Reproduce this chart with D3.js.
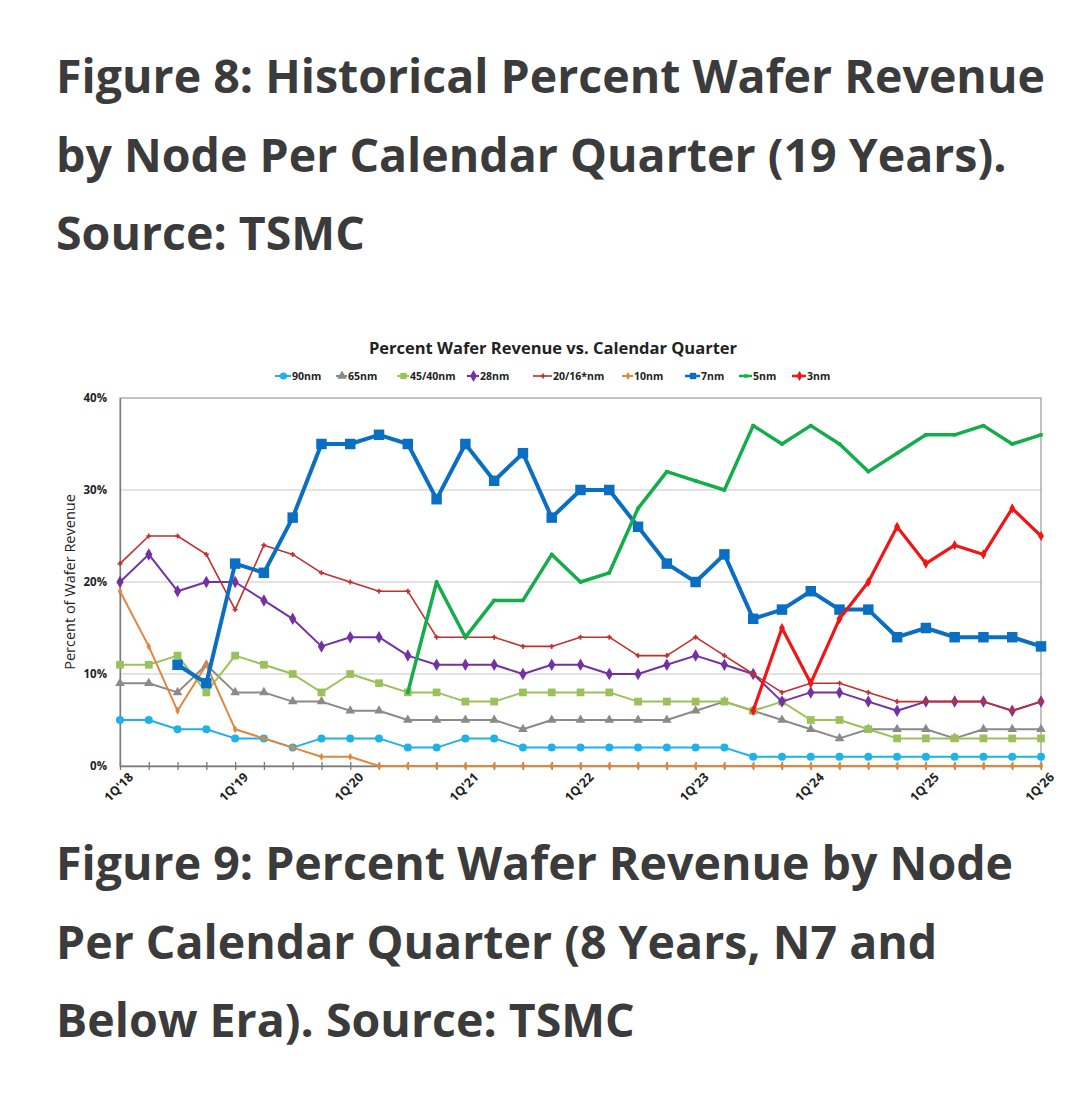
<!DOCTYPE html>
<html>
<head>
<meta charset="utf-8">
<script src="https://cdn.jsdelivr.net/npm/d3@7"></script>
<style>
  body { margin: 0; background: #fff; }
  svg { display: block; }
  .head { font-family: "Open Sans", sans-serif; font-weight: 700; fill: #3b3b3b; font-size: 46.5px; }
  .chart text { font-family: "Open Sans", "Liberation Sans", sans-serif; font-weight: 700; fill: #222; }
</style>
</head>
<body>
<svg id="page" width="1080" height="1106"></svg>
<script>
// quarters, 1Q'18 .. 1Q'26
var quarters = ["1Q'18","2Q'18","3Q'18","4Q'18","1Q'19","2Q'19","3Q'19","4Q'19",
  "1Q'20","2Q'20","3Q'20","4Q'20","1Q'21","2Q'21","3Q'21","4Q'21",
  "1Q'22","2Q'22","3Q'22","4Q'22","1Q'23","2Q'23","3Q'23","4Q'23",
  "1Q'24","2Q'24","3Q'24","4Q'24","1Q'25","2Q'25","3Q'25","4Q'25","1Q'26"];
var yTicks = [0, 10, 20, 30, 40];

var n90   = [5,5,4,4,3,3,2,3,3,3,2,2,3,3,2,2,2,2,2,2,2,2,1,1,1,1,1,1,1,1,1,1,1];
var n65   = [9,9,8,11,8,8,7,7,6,6,5,5,5,5,4,5,5,5,5,5,6,7,6,5,4,3,4,4,4,3,4,4,4];
var n45   = [11,11,12,8,12,11,10,8,10,9,8,8,7,7,8,8,8,8,7,7,7,7,6,7,5,5,4,3,3,3,3,3,3];
var n28   = [20,23,19,20,20,18,16,13,14,14,12,11,11,11,10,11,11,10,10,11,12,11,10,7,8,8,7,6,7,7,7,6,7];
var n20   = [22,25,25,23,17,24,23,21,20,19,19,14,14,14,13,13,14,14,12,12,14,12,10,8,9,9,8,7,7,7,7,6,7];
var n10   = [19,13,6,11,4,3,2,1,1,0,0,0,0,0,0,0,0,0,0,0,0,0,0,0,0,0,0,0,0,0,0,0,0];
var n7    = [null,null,11,9,22,21,27,35,35,36,35,29,35,31,34,27,30,30,26,22,20,23,16,17,19,17,17,14,15,14,14,14,13];
var n5    = [null,null,null,null,null,null,null,null,null,null,8,20,14,18,18,23,20,21,28,32,31,30,37,35,37,35,32,34,36,36,37,35,36];
var n3    = [null,null,null,null,null,null,null,null,null,null,null,null,null,null,null,null,
             null,null,null,null,null,null,6,15,9,16,20,26,22,24,23,28,25];

var series = [
  { name: "90nm",     values: n90, color: "#1eb2e8", width: 2,   symbol: d3.symbolCircle,   size: 50 },
  { name: "65nm",     values: n65, color: "#8a8a8a", width: 2,   symbol: d3.symbolTriangle, size: 40 },
  { name: "45/40nm",  values: n45, color: "#9bc15a", width: 2,   symbol: d3.symbolSquare,   size: 60 },
  { name: "28nm",     values: n28, color: "#7331a6", width: 2,   symbol: d3.symbolDiamond,  size: 45 },
  { name: "20/16*nm", values: n20, color: "#c0302e", width: 1.6, symbol: d3.symbolCross,    size: 14 },
  { name: "10nm",     values: n10, color: "#e0873e", width: 2,   symbol: d3.symbolDiamond,  size: 18 },
  { name: "7nm",      values: n7,  color: "#0a6fc2", width: 4,   symbol: d3.symbolSquare,   size: 110 },
  { name: "5nm",      values: n5,  color: "#13ad4a", width: 3.5, symbol: d3.symbolSquare,   size: 12 },
  { name: "3nm",      values: n3,  color: "#f01616", width: 3.2, symbol: d3.symbolDiamond,  size: 30 }
];

var svg = d3.select("#page");

// headings
var heads = [
  { lines: ["Figure 8: Historical Percent Wafer Revenue", "by Node Per Calendar Quarter (19 Years).", "Source: TSMC"], y: 93 },
  { lines: ["Figure 9: Percent Wafer Revenue by Node", "Per Calendar Quarter (8 Years, N7 and", "Below Era). Source: TSMC"], y: 880 }
];
heads.forEach(function(h) {
  svg.append("g").selectAll("text").data(h.lines).enter().append("text")
    .attr("class", "head")
    .attr("x", 56)
    .attr("y", function(d, i) { return h.y + i * 78.5; })
    .text(function(d) { return d; });
});

// chart
var m = { left: 120, right: 1041, top: 398, bottom: 766 };
var chart = svg.append("g").attr("class", "chart");

var x = d3.scaleLinear().domain([0, quarters.length - 1]).range([m.left, m.right]);
var y = d3.scaleLinear().domain([0, 40]).range([m.bottom, m.top]);

chart.append("text")
  .attr("x", 553).attr("y", 354)
  .attr("text-anchor", "middle")
  .style("font-size", "16.5px")
  .text("Percent Wafer Revenue vs. Calendar Quarter");

// gridlines
chart.append("g").selectAll("line").data(yTicks.slice(1, 4)).enter().append("line")
  .attr("x1", m.left).attr("x2", m.right)
  .attr("y1", function(d) { return y(d); }).attr("y2", function(d) { return y(d); })
  .attr("stroke", "#c8c8c8").attr("stroke-width", 1.2);

// frame
chart.append("rect")
  .attr("x", m.left).attr("y", m.top)
  .attr("width", m.right - m.left).attr("height", m.bottom - m.top)
  .attr("fill", "none").attr("stroke", "#9a9a9a").attr("stroke-width", 1.2);

// y axis
var yAxis = chart.append("g")
  .attr("transform", "translate(" + m.left + ",0)")
  .call(d3.axisLeft(y).tickValues(yTicks).tickSize(0).tickPadding(13)
    .tickFormat(function(d) { return d + "%"; }));
yAxis.select(".domain").attr("stroke", "#7a7a7a").attr("stroke-width", 1.3);
yAxis.selectAll("text").style("font-size", "11.5px").attr("fill", "#222");

chart.append("text")
  .attr("transform", "translate(75," + ((m.top + m.bottom) / 2) + ") rotate(-90)")
  .attr("text-anchor", "middle")
  .style("font-size", "14.5px")
  .style("font-weight", "400")
  .text("Percent of Wafer Revenue");

// x axis
var xAxis = chart.append("g")
  .attr("transform", "translate(0," + m.bottom + ")")
  .call(d3.axisBottom(x).tickValues(d3.range(quarters.length)).tickSize(4).tickSizeOuter(0)
    .tickPadding(8)
    .tickFormat(function(d) { return d % 4 === 0 ? quarters[d] : ""; }));
xAxis.select(".domain").attr("stroke", "#7a7a7a").attr("stroke-width", 1.5);
xAxis.selectAll(".tick line").attr("y1", -4).attr("stroke", "#7a7a7a").attr("stroke-width", 1.3);
xAxis.selectAll("text")
  .style("font-size", "12.5px").attr("fill", "#222")
  .attr("text-anchor", "end")
  .attr("dx", "1px").attr("dy", "6px")
  .attr("transform", "rotate(-45)");

// lines
var line = d3.line()
  .defined(function(d) { return d != null; })
  .x(function(d, i) { return x(i); })
  .y(function(d) { return y(d); });

var g = chart.selectAll(".series").data(series).enter().append("g").attr("class", "series");
g.append("path")
  .attr("d", function(s) { return line(s.values); })
  .attr("fill", "none")
  .attr("stroke", function(s) { return s.color; })
  .attr("stroke-width", function(s) { return s.width; })
  .attr("stroke-linejoin", "round");
g.each(function(s) {
  d3.select(this).selectAll("path.pt")
    .data(s.values.map(function(v, i) { return { v: v, i: i }; }).filter(function(d) { return d.v != null; }))
    .enter().append("path").attr("class", "pt")
    .attr("transform", function(d) { return "translate(" + x(d.i) + "," + y(d.v) + ")"; })
    .attr("d", d3.symbol().type(s.symbol).size(s.size))
    .attr("fill", s.color);
});

// legend
var legLine = [275, 336, 397, 467, 533, 622, 685, 739, 792];
var legText = [292, 348, 410, 480, 553, 634, 701, 753, 807];
var leg = chart.append("g").selectAll("g").data(series).enter().append("g")
  .attr("transform", function(s, i) { return "translate(" + legLine[i] + ",376)"; });
leg.append("line")
  .attr("x1", 0).attr("x2", function(s, i) { return legText[i] - legLine[i] - 1; })
  .attr("stroke", function(s) { return s.color; })
  .attr("stroke-width", function(s) { return Math.min(s.width, 2.5); });
leg.append("path")
  .attr("transform", function(s, i) { return "translate(" + ((legText[i] - legLine[i]) / 2) + ",0)"; })
  .attr("d", function(s) { return d3.symbol().type(s.symbol).size(Math.min(s.size, 40))(); })
  .attr("fill", function(s) { return s.color; });
leg.append("text")
  .attr("x", function(s, i) { return legText[i] - legLine[i]; }).attr("y", 4)
  .style("font-size", "10.5px")
  .text(function(s) { return s.name; });
</script>
</body>
</html>
